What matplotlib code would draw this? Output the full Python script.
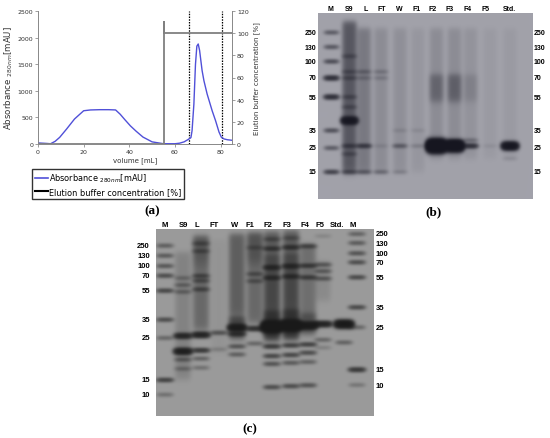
import numpy as np
import matplotlib
matplotlib.use('Agg')
import matplotlib.pyplot as plt
from matplotlib.lines import Line2D

# ---- (a) chromatogram data ----
volume = [0, 2, 4, 5.5, 7.5, 9.5, 12.5, 16, 20, 23, 27, 31, 34, 36, 38, 40.5, 43, 46, 50, 55,
          60, 62, 64, 66, 67, 67.5, 68.3, 69, 69.6, 70.2, 70.8, 71.9, 72.7, 74.1, 76.3, 77.8,
          79.3, 80.3, 81.5, 83, 85]
absorbance = [20, 15, 10, 5, 50, 125, 280, 470, 625, 640, 645, 645, 640, 560, 460, 340, 240, 130, 40, 5,
              5, 15, 40, 90, 120, 250, 750, 1500, 1840, 1880, 1760, 1380, 1190, 940, 626, 438,
              226, 130, 95, 80, 70]
elution_volume = [0, 55.3, 55.3, 55.3, 85]
elution_conc = [0, 0, 110, 100, 100]
fraction_marks = [66, 80.5]

# ---- (b) gel data ----
lanes_b = ['M', 'S9', 'L', 'FT', 'W', 'F1', 'F2', 'F3', 'F4', 'F5', 'Std.']
ladder_b = [250, 130, 100, 70, 55, 35, 25, 15]
bands_b = [
    [(250, 0.6), (130, 0.65), (100, 0.8), (70, 1.4), (55, 1.4), (35, 0.75), (25, 0.6), (15, 1.0)],
    [(110, 0.4), (80, 0.4), (70, 0.45), (55, 0.45), (48, 0.4),
     (40, 3.0), (26, 0.7), (22, 0.4), (15, 0.7)],
    [(80, 0.35), (70, 0.25), (26, 1.0), (15, 0.55)],
    [(80, 0.25), (70, 0.2), (26, 0.12), (15, 0.4)],
    [(35, 0.12), (26, 0.55), (15, 0.2)],
    [(35, 0.1), (26, 0.2)],
    [(28, 1.0), (26, 8.0)],
    [(28, 0.8), (26, 6.0)],
    [(29, 0.35), (26, 1.3)],
    [(26, 0.08)],
    [(26, 3.5), (20, 0.12)],
]
smear_b = [
    [],
    [(400, 15, 0.55)],
    [(300, 15, 0.25)],
    [(300, 15, 0.12)],
    [(300, 15, 0.1)],
    [(300, 15, 0.06)],
    [(300, 20, 0.12), (75, 52, 0.3)],
    [(300, 20, 0.12), (75, 52, 0.35)],
    [(300, 20, 0.08), (75, 52, 0.12)],
    [(300, 20, 0.04)],
    [(300, 20, 0.04)],
]

# ---- (c) gel data ----
lanes_c = ['M', 'S9', 'L', 'FT', 'W', 'F1', 'F2', 'F3', 'F4', 'F5', 'Std.', 'M']
ladder_c = [250, 130, 100, 70, 55, 35, 25, 15, 10]
bands_c = [
    [(250, 0.55), (130, 0.6), (100, 0.65), (70, 0.8), (55, 0.9), (35, 0.8), (25, 0.45), (15, 1.0), (10, 0.35)],
    [(66, 0.35), (59, 0.45), (53, 0.45), (25.5, 1.8), (21, 2.4), (19, 0.55), (17, 0.35)],
    [(250, 0.5), (150, 0.5), (67, 0.7), (62, 0.6), (54, 0.7), (25.5, 2.0), (21, 1.2), (19, 0.5), (17, 0.35)],
    [(26, 0.7), (21, 0.2)],
    [(28, 2.5), (25, 1.0), (21.5, 0.7), (19.5, 0.55)],
    [(150, 0.4), (65, 0.55), (58, 0.5), (27, 1.4), (22, 0.45)],
    [(250, 0.5), (130, 1.0), (72, 1.3), (60, 1.1), (27.5, 6.0), (21, 1.1), (18.7, 0.9), (17, 0.7), (10.6, 0.8)],
    [(250, 0.4), (130, 1.1), (72, 1.3), (60, 1.1), (27.5, 5.5), (21, 1.0), (18.7, 0.9), (17, 0.6), (10.6, 0.8)],
    [(130, 0.8), (70, 1.0), (58, 0.9), (27, 3.0), (21, 1.0), (19, 0.8), (17, 0.5), (10.6, 0.7)],
    [(250, 0.15), (70, 0.6), (63, 0.55), (56, 0.6), (27.3, 2.0), (22, 0.45), (20, 0.2)],
    [(26.7, 3.5), (21, 0.5)],
    [(250, 0.5), (130, 0.6), (100, 0.7), (70, 0.8), (55, 0.85), (35, 0.85), (25, 0.45), (15, 1.2), (10, 0.3)],
]
smear_c = [
    [],
    [(150, 15, 0.15)],
    [(400, 100, 0.55), (100, 28, 0.35)],
    [(300, 20, 0.04)],
    [(400, 35, 0.45), (34, 24, 0.8)],
    [(400, 90, 0.6), (90, 30, 0.35)],
    [(400, 110, 0.5), (110, 36, 0.75), (36, 23, 1.2)],
    [(400, 110, 0.5), (110, 36, 0.75), (36, 23, 1.2)],
    [(150, 32, 0.3), (33, 24, 0.6)],
    [(80, 40, 0.1)],
    [],
    [],
]

# ---- layout (figure pixels) ----
FIG_W, FIG_H = 550, 439


def px(left, top, right, bottom):
    return [left / FIG_W, 1 - bottom / FIG_H, (right - left) / FIG_W, (bottom - top) / FIG_H]


# gel (b): local pixel coords
gel_b_box = (318, 14, 533, 200)
lane_x_b = [13.5, 31.5, 46, 63, 82, 100, 118.5, 136.5, 152.5, 172, 192]
label_x_b = [12.7, 31, 48, 63.7, 81, 99, 115, 132, 149, 168, 191]
ladder_y_b = [19.5, 34, 48.5, 65, 84, 117.5, 135, 159]

# gel (c)
gel_c_box = (156, 230, 374, 417)
lane_x_c = [9, 27, 45, 63, 81, 99, 116, 135, 152, 167, 188, 201]
label_x_c = [9, 27, 41, 58, 79, 94, 112, 131, 149, 164, 181, 197]
ladder_yl_c = [16.7, 26.7, 37, 46.7, 61.7, 90.7, 109, 151, 165.7]
ladder_yr_c = [5, 14, 24.3, 33.3, 48.3, 78.3, 98.3, 140.7, 156]


def ladder_interp(kda, lad, ys):
    t = -np.log(np.asarray(lad, float))
    ys = np.asarray(ys, float)
    v = -np.log(kda)
    if v < t[0]:
        return ys[0] + (ys[1] - ys[0]) / (t[1] - t[0]) * (v - t[0])
    if v > t[-1]:
        return ys[-1] + (ys[-1] - ys[-2]) / (t[-1] - t[-2]) * (v - t[-1])
    return np.interp(v, t, ys)


def blur(a, sigma):
    # separable gaussian blur, sigma in array pixels
    r = int(3 * sigma) + 1
    k = np.exp(-0.5 * (np.arange(-r, r + 1) / sigma) ** 2)
    k /= k.sum()
    a = np.apply_along_axis(lambda m: np.convolve(m, k, mode='same'), 0, a)
    return np.apply_along_axis(lambda m: np.convolve(m, k, mode='same'), 1, a)


def render_gel(W, H, centres, hw, bands, smears, lad, y_left, y_right, bg, ink, s=3):
    yy = (np.arange(H * s) + 0.5) / s
    xx = (np.arange(W * s) + 0.5) / s
    D = np.zeros((len(yy), len(xx)))
    xl, xr = centres[0], centres[-1]

    def y_of(kda, cx):
        f = (cx - xl) / (xr - xl)
        return ladder_interp(kda, lad, y_left) * (1 - f) + ladder_interp(kda, lad, y_right) * f

    for cx, lane_bands, lane_smears in zip(centres, bands, smears):
        base = np.exp(-(np.abs(xx - cx) / hw) ** 4)
        for kda, amt in lane_bands:
            yc = y_of(kda, cx)
            sig = 1.25 * np.sqrt(max(amt, 1.0))
            prof = np.exp(-(np.abs(xx - cx) / (hw * (1 + 0.04 * amt))) ** 4)
            D += amt * np.outer(np.exp(-0.5 * ((yy - yc) / sig) ** 2), prof)
        for top, bot, lvl in lane_smears:
            yt, yb = max(y_of(top, cx), 1.0), y_of(bot, cx)
            box = 1 / (1 + np.exp(-(yy - yt) / 1.5)) / (1 + np.exp(-(yb - yy) / 2.0))
            D += lvl * np.outer(box, base)
    D = blur(D, 1.15 * s)
    sat = 1 - np.exp(-1.4 * D)
    bg = np.array(bg) / 255
    ink = np.array(ink) / 255
    return bg[None, None, :] * (1 - sat[..., None]) + ink[None, None, :] * sat[..., None]


fig = plt.figure(figsize=(5.5, 4.39), dpi=100)

# ---- (a) ----
ax = fig.add_axes(px(38, 12, 232, 145))
ax2 = ax.twinx()
ax.plot(volume, absorbance, color='#5050d8', lw=1.0, zorder=3)
ax2.plot(elution_volume, elution_conc, color='#808080', lw=1.3)
for v in fraction_marks:
    ax.axvline(v, color='black', lw=0.9, ls=(0, (1.2, 1.0)))
ax.set_xlim(0, 85)
ax.set_ylim(0, 2500)
ax2.set_ylim(0, 120)
ax.set_xticks([0, 20, 40, 60, 80])
ax.set_yticks(range(0, 2501, 500))
ax2.set_yticks(range(0, 121, 20))
for a in (ax, ax2):
    a.tick_params(labelsize=4.5, length=2, width=0.5, color='#777777', pad=1.5, labelcolor='#333333')
    for sp in a.spines.values():
        sp.set_color('#888888')
        sp.set_linewidth(0.6)
    a.spines['top'].set_visible(False)
ax.set_xlabel('volume [mL]', fontsize=5, labelpad=2, color='#333333')
ax.set_ylabel('Absorbance $_{280nm}$[mAU]', fontsize=6.2, labelpad=2, color='#333333')
ax2.set_ylabel('Elution buffer concentration [%]', fontsize=5, labelpad=3, color='#333333')

handles = [Line2D([], [], color='#5050d8', lw=1.2), Line2D([], [], color='black', lw=1.5)]
leg = fig.legend(handles, ['Absorbance $_{280nm}$[mAU]', 'Elution buffer concentration [%]'],
                 loc='upper left', bbox_to_anchor=(32 / FIG_W, 1 - 170 / FIG_H), fontsize=5.9,
                 frameon=True, fancybox=False, shadow=False, borderpad=0.35, labelspacing=0.3,
                 handlelength=1.6, handletextpad=0.1, borderaxespad=0)
leg.get_frame().set_edgecolor('black')
leg.get_frame().set_linewidth(1.0)

# ---- gels ----
gel_font = dict(family='Liberation Sans', weight='bold', color='black')


def draw_gel(box, lanes, centres, label_x, hw, bands, smears, lad, yl, yr, bg, ink,
             left_lab, right_lab, left_x, right_x, lab_size):
    l, t, r, b = box
    W, H = r - l, b - t
    g = fig.add_axes(px(l, t, r, b))
    img = render_gel(W, H, centres, hw, bands, smears, lad, yl, yr, bg, ink)
    g.imshow(img, extent=(0, W, H, 0), interpolation='bilinear', aspect='auto')
    g.set_xlim(0, W)
    g.set_ylim(H, 0)
    g.axis('off')
    for name, x in zip(lanes, label_x):
        g.text(x, -4.5, name, ha='center', va='center', fontsize=lab_size, **gel_font)
    for k, y in zip(lad, left_lab):
        g.text(left_x, y, str(k), ha='right', va='center', fontsize=lab_size, **gel_font)
    for k, y in zip(lad, right_lab):
        g.text(W + right_x, y, str(k), ha='left', va='center', fontsize=lab_size, **gel_font)
    return g


draw_gel(gel_b_box, lanes_b, lane_x_b, label_x_b, 7.0, bands_b, smear_b, ladder_b,
         ladder_y_b, ladder_y_b, (162, 162, 170), (22, 22, 32),
         ladder_y_b, ladder_y_b, -1.5, 1.0, 5.0)
draw_gel(gel_c_box, lanes_c, lane_x_c, label_x_c, 8.0, bands_c, smear_c, ladder_c,
         ladder_yl_c, ladder_yr_c, (155, 155, 155), (25, 25, 25),
         ladder_yl_c, ladder_yr_c, -6, 2.0, 5.5)

# ---- panel letters ----
panel_font = dict(family='Liberation Serif', weight='bold', fontsize=9.5, ha='center', va='center')
fig.text(152 / FIG_W, 1 - 211 / FIG_H, '(a)', **panel_font)
fig.text(433 / FIG_W, 1 - 212 / FIG_H, '(b)', **panel_font)
fig.text(250 / FIG_W, 1 - 429 / FIG_H, '(c)', **panel_font)

fig.savefig('out.png', dpi=100)
